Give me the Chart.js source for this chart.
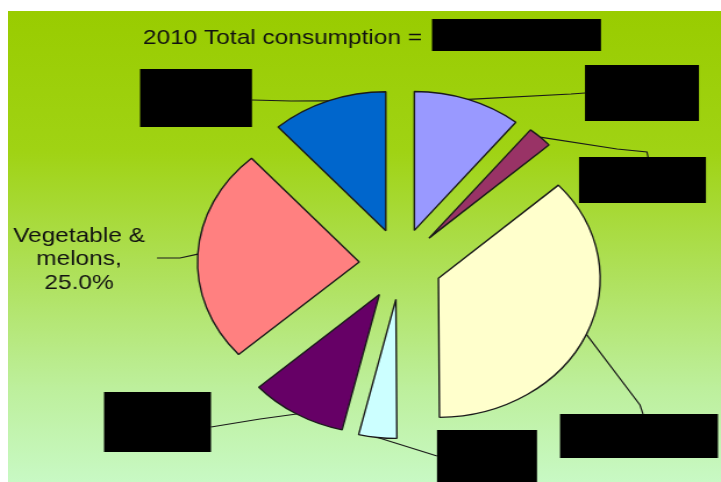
<!DOCTYPE html>
<html>
<head>
<meta charset="utf-8">
<script src="https://cdn.jsdelivr.net/npm/chart.js@4.4.1/dist/chart.umd.min.js"></script>
<style>
  html, body { margin: 0; padding: 0; background: #fff; }
  #frame {
    position: absolute; left: 8px; top: 11px; width: 713px; height: 471px; overflow: hidden;
    background: linear-gradient(to bottom, #99cc00 0%, #a0d314 30%, #aee058 55%, #bdef9c 80%, #c8f9c4 100%);
  }
  /* the original picture is stretched sideways, so the round pie is too */
  #stretch { width: 613px; height: 471px; transform: scaleX(1.1631); transform-origin: 0 0; }
</style>
</head>
<body>
<div id="frame"><div id="stretch"><canvas id="pie"></canvas></div></div>
<script>
const categories = ['Slice 1', 'Slice 2', 'Slice 3', 'Slice 4', 'Slice 5', 'Vegetable & melons', 'Slice 7'];
const shares = [10.8, 2.5, 36.6, 3.8, 9.7, 25.0, 11.6];
const sliceColors = ['#9999ff', '#993366', '#ffffcc', '#ccffff', '#660066', '#ff8080', '#0066cc'];
const titleText = '2010 Total consumption =';
const shownLabel = 5;

const SX = 713 / 613;
const RADIUS = 139;
const EXPLODE = 35.6;
const FONT = '21px "Liberation Sans", Arial, sans-serif';

// page coordinates of the blacked-out label boxes and their leader lines
const labelBoxes = [
  {slice: 0, rect: [585, 65, 699, 121], path: [[571, 94], [585, 93]]},
  {slice: 1, rect: [579, 157, 706, 203], path: [[617, 149], [647, 152], [648, 157]]},
  {slice: 2, rect: [560, 414, 718, 458], path: [[640, 405], [643, 414]]},
  {slice: 3, rect: [437, 430, 537, 482], path: [[437, 456]]},
  {slice: 4, rect: [104, 392, 211, 452], path: [[260, 419], [211, 427]]},
  {slice: 6, rect: [140, 69, 252, 127], path: [[291, 101], [252, 100]]}
];
const titleBox = [432, 19, 601, 51];

function px(x) { return (x - 8) / SX; }
function py(y) { return y - 11; }

// chart.js grows small exploded slices; put them back to one radius
const explodeFix = {
  id: 'explodeFix',
  afterDatasetUpdate(chart) {
    chart.getDatasetMeta(0).data.forEach(arc => {
      const extra = EXPLODE * (1 - Math.sin(Math.min(Math.PI, arc.circumference)));
      const pad = extra / (2 * Math.PI * RADIUS);
      arc.outerRadius = RADIUS - extra;
      arc.startAngle -= pad;
      arc.endAngle += pad;
    });
  }
};

const labelsPlugin = {
  id: 'labelsPlugin',
  afterDraw(chart) {
    const ctx = chart.ctx;
    const arcs = chart.getDatasetMeta(0).data;
    ctx.save();

    ctx.fillStyle = '#111';
    ctx.font = FONT;
    ctx.textAlign = 'left';
    ctx.textBaseline = 'alphabetic';
    ctx.fillText(titleText, px(143), py(43.5));
    ctx.fillStyle = '#000';
    ctx.fillRect(px(titleBox[0]), py(titleBox[1]), (titleBox[2] - titleBox[0]) / SX, titleBox[3] - titleBox[1]);

    const edgePoint = (i) => {
      const arc = arcs[i];
      const mid = (arc.startAngle + arc.endAngle) / 2;
      const r = RADIUS + EXPLODE;
      return [arc.x + Math.cos(mid) * r, arc.y + Math.sin(mid) * r];
    };

    ctx.strokeStyle = '#1a1a1a';
    ctx.lineWidth = 1.2;
    labelBoxes.forEach(b => {
      const start = edgePoint(b.slice);
      ctx.beginPath();
      ctx.moveTo(start[0], start[1]);
      b.path.forEach(p => ctx.lineTo(px(p[0]), py(p[1])));
      ctx.stroke();
      ctx.fillStyle = '#000';
      ctx.fillRect(px(b.rect[0]), py(b.rect[1]), (b.rect[2] - b.rect[0]) / SX, b.rect[3] - b.rect[1]);
    });

    // the one label that is still readable
    const start = edgePoint(shownLabel);
    ctx.beginPath();
    ctx.moveTo(start[0], start[1]);
    ctx.lineTo(px(180), py(258));
    ctx.lineTo(px(157), py(258));
    ctx.stroke();

    ctx.fillStyle = '#111';
    ctx.textAlign = 'center';
    const lines = ['Vegetable &', 'melons,', shares[shownLabel].toFixed(1) + '%'];
    lines.forEach((t, i) => ctx.fillText(t, px(79), py(242 + i * 23.3)));
    ctx.restore();
  }
};

new Chart(document.getElementById('pie'), {
  type: 'pie',
  data: {
    labels: categories,
    datasets: [{
      data: shares,
      backgroundColor: sliceColors,
      borderColor: '#1a1a1a',
      borderWidth: 1.4,
      offset: EXPLODE * 4,
      radius: RADIUS,
      clip: false
    }]
  },
  options: {
    responsive: true,
    maintainAspectRatio: false,
    animation: false,
    layout: {padding: {left: 62, right: 0, top: 35, bottom: 0}},
    plugins: {legend: {display: false}, tooltip: {enabled: false}, title: {display: false}}
  },
  plugins: [explodeFix, labelsPlugin]
});
</script>
</body>
</html>
